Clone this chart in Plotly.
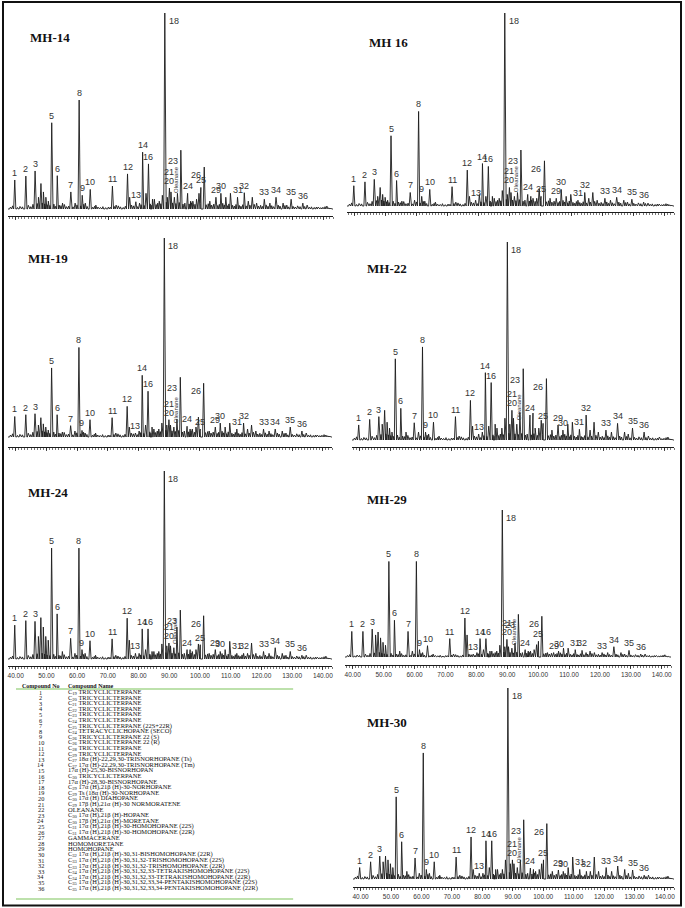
import plotly.graph_objects as go

W, H = 685, 908

# ---------------- DATA ----------------
SAMPLES = ["MH-14", "MH 16", "MH-19", "MH-22", "MH-24", "MH-29", "MH-30"]

# retention times (min) of the 36 numbered compounds
COMPOUND_RT = [39.7, 43.3, 46.3, 47.4, 51.7, 53.5, 57.9, 60.6, 61.6, 64.2,
               71.4, 76.3, 79.0, 81.2, 82.3, 83.1, 85.0, 88.4, 89.2, 90.4,
               89.9, 91.5, 93.6, 95.8, 100.1, 101.2, 97.5, 103.0, 105.0, 106.6,
               112.0, 114.2, 120.7, 124.5, 129.4, 133.2]
# compounds that carry a number label on the traces
LABELLED = [1, 2, 3, 5, 6, 7, 8, 9, 10, 11, 12, 13, 14, 16, 18, 20, 21, 23, 24, 25,
            26, 29, 30, 31, 32, 33, 34, 35, 36]

# peak heights (% of peak 18) of the 36 compounds
H_MH14 = [14.8, 16.8, 19.4, 6, 44, 17, 8.7, 55.6, 7, 10, 11.7, 17.9, 3.7, 29, 8, 23, 5, 100,
          6, 8.7, 10.7, 6, 30, 8, 11, 21.4, 4, 4, 6, 8, 6, 8.3, 5, 6, 5, 3]
H_MH16 = [10.5, 12.5, 13.8, 5, 36.4, 13.2, 7, 49, 5, 8.6, 10, 18.6, 3, 22, 5, 20.5, 4, 100,
          6, 7, 9.6, 5, 29, 6, 5, 23.4, 4, 4, 4, 8.6, 3, 7, 4, 4.5, 3.5, 2]
H_MH19 = [10.3, 11.2, 11.7, 6, 34.7, 11.2, 5.7, 45, 3.3, 8.7, 9.7, 15.4, 2, 31, 6, 23, 4, 100,
          6, 6, 8.7, 5, 30, 5.4, 4, 27, 4, 3, 5, 7, 4, 7, 4, 4, 5, 3]
H_MH22 = [7.6, 10.4, 11.8, 8, 41, 16, 8.7, 47, 4, 9, 11.8, 20, 3, 34, 7, 29, 6, 100,
          8, 11, 15, 8, 36, 12.6, 8.4, 31, 6, 5, 7.6, 5, 5.4, 12.6, 5, 8.4, 6, 4]
H_MH24 = [18, 20.4, 20, 12, 59, 24, 11, 59, 5, 9.7, 10.7, 21.7, 3, 16, 5, 16, 4, 100,
          7, 7, 8.5, 6, 26, 5, 7.6, 23, 4, 3, 5, 4, 3, 3, 4, 6, 4, 2]
H_MH29 = [17.4, 17.4, 19, 15, 65, 25, 17.4, 65, 5, 7.7, 12.5, 26.5, 2, 12.5, 5, 12.5, 4, 100,
          7, 7, 12, 6, 29, 5, 10.7, 27.7, 4, 3, 3, 4, 5, 4.5, 3, 7, 4.5, 2]
H_MH30 = [6, 9, 12, 9, 43, 19.5, 11, 66, 5, 9, 11.5, 22, 3, 20, 6, 20, 5, 100,
          8, 8, 10, 6, 31, 5.7, 10, 29, 4, 4, 4.7, 4, 5, 4, 6, 6.8, 4.7, 2]

# unnumbered peaks (retention time, min) and their heights per sample
EXTRA_RT = [48.2, 49.0, 49.8, 50.6, 55.2, 59.3, 62.6, 66.0, 72.6, 77.0, 80.2, 84.4, 86.6,
            87.6, 92.5, 96.8, 98.7, 99.5, 108.2, 109.7, 115.5, 116.8, 118.2, 122.5, 126.8,
            128.0, 134.6, 138.2, 141.0]
E_MH14 = [13, 8.7, 6, 4, 3, 3, 3, 2, 2, 6, 3, 5, 4, 7, 8, 4, 5, 8, 6, 8, 4, 6, 3, 3, 3, 2, 2, 1, 1.5]
E_MH16 = [9.6, 6, 4.5, 3, 2.5, 3, 2.5, 2, 2, 5, 6, 5, 4, 8, 7, 5, 4, 9, 5, 6, 4, 7, 3, 3, 3, 2, 1.5, 1, 1]
E_MH19 = [9.7, 6.6, 5, 3.5, 2.5, 3, 2, 2, 2, 5, 3, 5, 4, 7, 9, 4, 5, 10, 5, 7, 4, 6, 3, 3, 3, 2, 2, 1, 1]
E_MH22 = [15, 9, 6, 4, 4, 4, 3, 2, 2, 7, 4, 8, 6, 11, 14, 13.6, 6, 10, 8, 9, 5, 9, 4, 4, 4, 3, 2, 1.5, 1.5]
E_MH24 = [22, 17, 12, 10, 4, 3, 3, 2, 2, 10, 3, 4, 4, 8, 17, 5, 5, 8, 5, 9.4, 3, 8.5, 3, 3, 3, 2, 2, 1, 1.5]
E_MH29 = [17, 13, 10, 8, 4, 4, 3, 2, 2, 15, 3, 4, 4, 8, 9.5, 4, 5, 8.4, 6, 6, 3, 4, 3, 3, 3, 2, 2, 1, 1.5]
E_MH30 = [12, 10, 8, 6, 4, 3, 3, 2, 2, 5, 3, 5, 5, 10, 10, 5, 5, 8, 6, 11.5, 4, 11.5, 4, 4, 5, 3, 2, 1, 1.5]

# small background peaks (shared by all traces)
NOISE_RT = [38.3, 39.0, 40.6, 41.4, 42.2, 44.1, 44.9, 45.6, 47.0, 48.6, 49.4, 50.2, 51.1, 52.4,
            53.0, 54.1, 54.7, 55.8, 56.5, 57.2, 58.6, 59.9, 61.1, 62.1, 63.2, 65.0, 65.6, 66.7,
            67.5, 68.3, 69.2, 70.1, 70.7, 72.0, 73.3, 74.0, 74.9, 75.6, 77.6, 78.3, 79.6, 80.7,
            81.7, 83.7, 84.0, 85.6, 86.1, 87.1, 88.9, 90.9, 92.0, 93.1, 94.3, 94.9, 96.3, 97.1,
            98.2, 99.9, 101.8, 102.5, 103.6, 104.3, 105.6, 106.1, 107.2, 107.7, 108.7, 109.2,
            110.4, 111.0, 111.5, 112.6, 113.1, 113.7, 114.8, 116.0, 117.4, 118.8, 119.5, 120.1,
            121.3, 121.9, 123.1, 123.7, 125.2, 125.8, 127.4, 128.6, 130.0, 130.7, 131.5, 132.3,
            133.8, 135.3, 136.0, 136.9, 137.6, 139.0, 139.7, 140.4, 141.6, 142.3]
NOISE_H = [1.0, 1.6, 0.8, 1.3, 1.1, 1.9, 1.2, 2.4, 2.8, 3.1, 2.6, 2.2, 1.8, 2.5,
           1.4, 2.0, 1.7, 2.3, 1.2, 1.5, 1.1, 2.1, 1.6, 2.4, 1.3, 0.9, 1.4, 1.0,
           0.8, 1.2, 0.7, 1.0, 0.9, 1.3, 1.6, 1.1, 0.8, 1.4, 2.0, 1.6, 1.2, 2.2,
           1.8, 2.6, 1.9, 2.3, 3.0, 2.7, 3.4, 3.1, 2.8, 3.3, 2.5, 3.0, 2.6, 3.2,
           2.4, 2.9, 2.2, 2.7, 2.0, 2.5, 1.8, 2.4, 2.9, 2.1, 1.7, 2.6,
           1.9, 1.5, 2.3, 1.8, 1.4, 2.2, 1.6, 2.0, 2.4, 1.5, 1.9, 1.3,
           2.1, 1.4, 1.7, 1.2, 2.0, 1.5, 1.8, 1.1, 1.4, 1.0, 1.6, 1.2,
           1.3, 0.9, 1.1, 0.8, 1.0, 0.7, 0.9, 1.2, 0.6, 0.5]

COMPOUND_NAMES = [
    "C<sub>19</sub> TRICYCLICTERPANE",
    "C<sub>20</sub> TRICYCLICTERPANE",
    "C<sub>21</sub> TRICYCLICTERPANE",
    "C<sub>22</sub> TRICYCLICTERPANE",
    "C<sub>23</sub> TRICYCLICTERPANE",
    "C<sub>24</sub> TRICYCLICTERPANE",
    "C<sub>25</sub> TRICYCLICTERPANE (22S+22R)",
    "C<sub>24</sub> TETRACYCLICHOPANE (SECO)",
    "C<sub>26</sub> TRICYCLICTERPANE 22 (S)",
    "C<sub>26</sub> TRICYCLICTERPANE 22 (R)",
    "C<sub>28</sub> TRICYCLICTERPANE",
    "C<sub>29</sub> TRICYCLICTERPANE",
    "C<sub>27</sub> 18α (H)-22,29,30-TRISNORHOPANE (Ts)",
    "C<sub>27</sub> 17α (H)-22,29,30-TRISNORHOPANE (Tm)",
    "17α (H)-25,30-BISNORHOPAN",
    "C<sub>30</sub> TRICYCLICTERPANE",
    "17α (H)-28,30-BISNORHOPANE",
    "C<sub>29</sub> 17α (H),21β (H)-30-NORHOPANE",
    "C<sub>29</sub> Ts (18α (H)-30-NORHOPANE",
    "C<sub>30</sub> 17α (H) DIAHOPANE",
    "C<sub>29</sub> 17β (H),21α (H)-30 NORMORATENE",
    "OLEANANE",
    "C<sub>30</sub> 17α (H),21β (H)-HOPANE",
    "C<sub>30</sub> 17β (H),21α (H)-MORETANE",
    "C<sub>31</sub> 17α (H),21β (H)-30-HOMOHOPANE (22S)",
    "C<sub>31</sub> 17α (H),21β (H)-30-HOMOHOPANE (22R)",
    "GAMMACERANE",
    "HOMOMORETANE",
    "HOMOHOPANE",
    "C<sub>32</sub> 17α (H),21β (H)-30,31-BISHOMOHOPANE (22R)",
    "C<sub>33</sub> 17α (H),21β (H)-30,31,32-TRISHOMOHOPANE (22S)",
    "C<sub>33</sub> 17α (H),21β (H)-30,31,32-TRISHOMOHOPANE (22R)",
    "C<sub>34</sub> 17α (H),21β (H)-30,31,32,33-TETRAKISHOMOHOPANE (22S)",
    "C<sub>34</sub> 17α (H),21β (H)-30,31,32,33-TETRAKISHOMOHOPANE (22R)",
    "C<sub>35</sub> 17α (H),21β (H)-30,31,32,33,34-PENTAKISHOMOHOPANE (22S)",
    "C<sub>35</sub> 17α (H),21β (H)-30,31,32,33,34-PENTAKISHOMOHOPANE (22R)",
]

X_TICKS = [40, 50, 60, 70, 80, 90, 100, 110, 120, 130, 140]
X_TICK_TEXT = ["40.00", "50.00", "60.00", "70.00", "80.00", "90.00", "100.00",
               "110.00", "120.00", "130.00", "140.00"]

HEIGHTS = [H_MH14, H_MH16, H_MH19, H_MH22, H_MH24, H_MH29, H_MH30]
EXTRAS = [E_MH14, E_MH16, E_MH19, E_MH22, E_MH24, E_MH29, E_MH30]

# ---------------- LAYOUT (pixel geometry of the panels) ----------------
PANELS = [
    dict(x0=7, x1=333, top=13, base=209, axis=216, tx=27, ty=38, labels=False),
    dict(x0=347, x1=675, top=13, base=206, axis=212, tx=367, ty=43, labels=False),
    dict(x0=7, x1=332, top=238, base=437, axis=447, tx=25, ty=258, labels=False),
    dict(x0=352, x1=675, top=242, base=440, axis=447, tx=365, ty=268, labels=False),
    dict(x0=7, x1=332, top=471, base=659, axis=666, tx=25, ty=492, labels=True),
    dict(x0=345, x1=672, top=510, base=657, axis=665, tx=365, ty=500, labels=True),
    dict(x0=353, x1=675, top=688, base=879, axis=887, tx=365, ty=722, labels=True),
]
X_RANGE = [37.5, 143.0]
W_MAIN = 0.35
W_NOISE = 0.28
INK = "#1c1c1c"
SANS = "Liberation Sans, Arial, sans-serif"
SERIF = "Liberation Serif, Times New Roman, serif"


def px_x(p):
    return p / W


def px_y(p):
    return 1 - p / H


fig = go.Figure()
annotations = []

for i, (name, p) in enumerate(zip(SAMPLES, PANELS)):
    peaks = list(zip(COMPOUND_RT, HEIGHTS[i], [W_MAIN] * 36))
    peaks += list(zip(EXTRA_RT, EXTRAS[i], [W_MAIN] * len(EXTRA_RT)))
    peaks += list(zip(NOISE_RT, NOISE_H, [W_NOISE] * len(NOISE_RT)))
    pts = [(X_RANGE[0], 0.0), (X_RANGE[1], 0.0)]
    for rt, h, w in peaks:
        pts += [(rt - w, 0.0), (rt, h), (rt + w, 0.0)]
    pts.sort(key=lambda t: t[0])
    xs = [t[0] for t in pts]
    ys = [t[1] for t in pts]

    n = "" if i == 0 else str(i + 1)
    gap = 100.0 * (p["axis"] - p["base"]) / (p["base"] - p["top"])
    fig.add_trace(go.Scatter(x=xs, y=ys, mode="lines", xaxis="x" + n, yaxis="y" + n,
                             line=dict(color=INK, width=0.9), hoverinfo="skip",
                             showlegend=False, cliponaxis=False))
    fig.update_layout(**{
        "xaxis" + n: dict(domain=[px_x(p["x0"]), px_x(p["x1"])], range=X_RANGE,
                          anchor="y" + n, showline=True, linecolor=INK, linewidth=1,
                          ticks="outside", ticklen=3, tickwidth=0.8, tickcolor=INK,
                          tickvals=X_TICKS, ticktext=X_TICK_TEXT,
                          showticklabels=p["labels"],
                          tickfont=dict(family=SANS, size=6.5, color="#333"),
                          minor=dict(dtick=1, ticks="outside", ticklen=2, tickcolor=INK,
                                     tickwidth=0.6),
                          showgrid=False, zeroline=False, fixedrange=True),
        "yaxis" + n: dict(domain=[px_y(p["axis"]), px_y(p["top"])], range=[-gap, 100],
                          anchor="x" + n, visible=False, fixedrange=True),
    })

    # sample title
    annotations.append(dict(xref="paper", yref="paper", x=px_x(p["tx"]), y=px_y(p["ty"]),
                            text="<b>" + name + "</b>", showarrow=False, xanchor="left",
                            yanchor="middle",
                            font=dict(family=SERIF, size=13, color="#111")))
    # peak number labels
    h20 = HEIGHTS[i][19]
    h21 = HEIGHTS[i][20]
    for c in LABELLED:
        rt = COMPOUND_RT[c - 1]
        h = HEIGHTS[i][c - 1]
        a = dict(xref="x" + n, yref="y" + n, x=rt, y=h, text=str(c), showarrow=False,
                 font=dict(family=SANS, size=9, color="#333"))
        if c == 18:
            a.update(xanchor="left", yanchor="top", xshift=2, yshift=-1)
        elif c in (23, 26):
            a.update(xanchor="right", yanchor="top", xshift=-1, yshift=-4 if c == 23 else -1)
        elif c == 20:
            a.update(x=89.8, y=max(h20, h21), xanchor="center", yanchor="bottom", yshift=0)
        elif c == 21:
            a.update(x=89.8, y=max(h20, h21), xanchor="center", yanchor="bottom", yshift=9)
        else:
            a.update(xanchor="center", yanchor="bottom", yshift=0)
        annotations.append(a)
    # oleanane tag
    annotations.append(dict(xref="x" + n, yref="y" + n, x=92.1,
                            y=HEIGHTS[i][21] + 1, text="Oleanane", textangle=-90,
                            showarrow=False, xanchor="center", yanchor="bottom",
                            font=dict(family=SANS, size=6, color="#333")))

# ---------------- compound table ----------------
annotations.append(dict(xref="paper", yref="paper", x=px_x(40), y=px_y(685.5),
                        text="<b>Compound No</b>", showarrow=False, xanchor="center",
                        yanchor="middle", font=dict(family=SERIF, size=6, color="#111")))
annotations.append(dict(xref="paper", yref="paper", x=px_x(65), y=px_y(685.5),
                        text="<b>Compound Name</b>", showarrow=False, xanchor="left",
                        yanchor="middle", font=dict(family=SERIF, size=6, color="#111")))
for k, (no, nm) in enumerate(zip(range(1, 37), COMPOUND_NAMES)):
    yy = 692 + k * 5.6
    annotations.append(dict(xref="paper", yref="paper", x=px_x(40), y=px_y(yy), text=str(no),
                            showarrow=False, xanchor="center", yanchor="middle",
                            font=dict(family=SERIF, size=6.3, color="#111")))
    annotations.append(dict(xref="paper", yref="paper", x=px_x(65), y=px_y(yy), text=nm,
                            showarrow=False, xanchor="left", yanchor="middle",
                            font=dict(family=SERIF, size=6.5, color="#111")))

shapes = [
    dict(type="line", xref="paper", yref="paper", x0=px_x(15), x1=px_x(293),
         y0=px_y(689), y1=px_y(689), line=dict(color="#7cc35a", width=1.2)),
    dict(type="line", xref="paper", yref="paper", x0=px_x(15), x1=px_x(293),
         y0=px_y(899), y1=px_y(899), line=dict(color="#7cc35a", width=1.2)),
    dict(type="rect", xref="paper", yref="paper", x0=px_x(2), x1=px_x(682),
         y0=px_y(905.5), y1=px_y(2), line=dict(color="#111", width=2)),
]

fig.update_layout(width=W, height=H, margin=dict(l=0, r=0, t=0, b=0),
                  paper_bgcolor="white", plot_bgcolor="rgba(0,0,0,0)",
                  annotations=annotations, shapes=shapes, showlegend=False)

fig.write_html("out.html", config={"displayModeBar": False, "staticPlot": True},
               post_script="document.body.style.margin='0';"
                           "document.body.style.overflow='hidden';")
